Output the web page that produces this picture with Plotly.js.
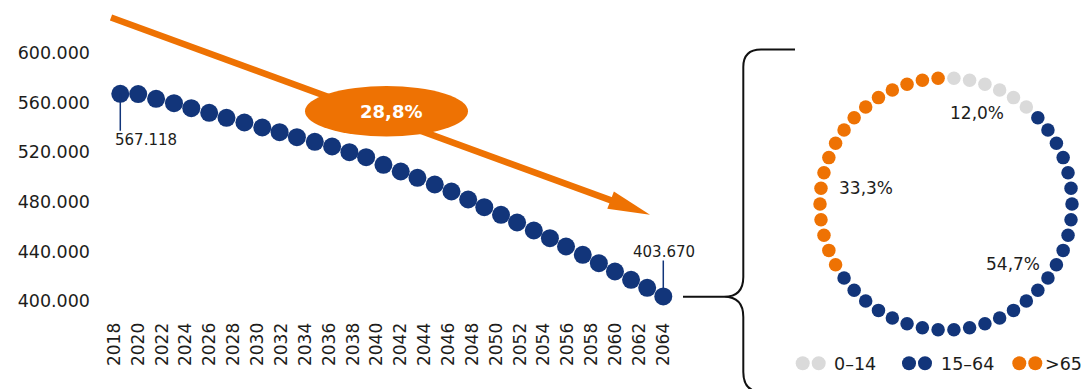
<!DOCTYPE html>
<html>
<head>
<meta charset="utf-8">
<script src="https://cdn.plot.ly/plotly-3.0.1.min.js"></script>
<style>html,body{margin:0;padding:0;background:#fff}#chart{width:1084px;height:389px}</style>
</head>
<body>
<div id="chart"></div>
<script>
// ---- data ----
// positions of the beads along the year axis, and the population they mark
const beadYears = [2018.5, 2020.0, 2021.5, 2023.0, 2024.45, 2025.95, 2027.4, 2028.9, 2030.4, 2031.85,
  2033.3, 2034.8, 2036.25, 2037.7, 2039.1, 2040.55, 2042.0, 2043.4, 2044.85, 2046.25,
  2047.65, 2049.0, 2050.4, 2051.75, 2053.15, 2054.5, 2055.85, 2057.25, 2058.6, 2059.95,
  2061.3, 2062.65, 2064.0];
const population = [567118, 566900, 563060, 559500, 555480, 551770, 547740, 543950, 539920, 536130,
  532100, 528390, 524600, 520000, 515970, 509840, 504430, 499350, 493950, 488300,
  481850, 475640, 469520, 463300, 456850, 450640, 443950, 437260, 430480, 423790,
  417100, 410650, 403670];
const yTicks = [400000, 440000, 480000, 520000, 560000, 600000];
const ageGroups = ['0–14', '15–64', '>65'];
const ageShares = [12.0, 54.7, 33.3];
const ringDotCount = 50;

// ---- style ----
const NAVY = '#12357a', ORANGE = '#ee7203', GREY = '#dadada', TXT = '#1d1d1b';
const groupColors = [GREY, NAVY, ORANGE];
const FONT = 'DejaVu Sans, sans-serif';
const W = 1084, H = 389;
const px = x => x / W, py = y => 1 - y / H;

function fmtThousands(v) { return String(Math.round(v)).replace(/\B(?=(\d{3})+(?!\d))/g, '.'); }
function fmtPct(v) { return v.toFixed(1).replace('.', ',') + '%'; }

// ring of dots built from shares
const counts = ageShares.map(s => Math.round(s / 100 * ringDotCount));
const ringTheta = [], ringColor = [];
let k = 0;
counts.forEach((c, g) => { for (let i = 0; i < c; i++) { ringTheta.push((k + 0.5) * 360 / ringDotCount); ringColor.push(groupColors[g]); k++; } });
const ringR = ringTheta.map(() => 1);

const traces = [
  { type: 'scatter', mode: 'markers', x: beadYears, y: population, xaxis: 'x', yaxis: 'y',
    marker: { size: 18, color: NAVY }, cliponaxis: false, hoverinfo: 'x+y' },
  { type: 'scatterpolar', mode: 'markers', r: ringR, theta: ringTheta, subplot: 'polar',
    marker: { size: 13.5, color: ringColor }, cliponaxis: false, hoverinfo: 'none' }
];

function pathPx(cmds) {
  return cmds.map(c => {
    if (typeof c === 'string') return c;
    return px(c[0]).toFixed(5) + ',' + py(c[1]).toFixed(5);
  }).join(' ');
}

const nLast = population.length - 1;
const shapes = [
  // stems
  { type: 'line', xref: 'x', yref: 'y', x0: beadYears[0], x1: beadYears[0], ysizemode: 'pixel', yanchor: population[0], y0: 0, y1: -37, line: { color: NAVY, width: 1.5 } },
  { type: 'line', xref: 'x', yref: 'y', x0: beadYears[nLast], x1: beadYears[nLast], ysizemode: 'pixel', yanchor: population[nLast], y0: 0, y1: 36, line: { color: NAVY, width: 1.5 }, layer: 'below' },
  // arrow
  { type: 'line', xref: 'paper', yref: 'paper', x0: px(111), y0: py(17.5), x1: px(612.5), y1: py(200.9), line: { color: ORANGE, width: 6.5 } },
  { type: 'path', xref: 'paper', yref: 'paper', path: 'M ' + pathPx([[650, 214.7], 'L', [607.3, 208.8], 'L', [613.9, 191.5]]) + ' Z', fillcolor: ORANGE, line: { width: 0 } },
  { type: 'circle', xref: 'paper', yref: 'paper', x0: px(305), x1: px(468), y0: py(86), y1: py(136.5), fillcolor: ORANGE, line: { width: 0 } },
  // bracket
  { type: 'path', xref: 'paper', yref: 'paper', line: { color: '#111', width: 2 },
    path: 'M ' + pathPx([[795, 49.5], 'L', [761, 49.5], 'Q', [743.3, 49.5], [743.3, 67], 'L', [743.3, 277], 'Q', [743.3, 296.8], [724, 296.8], 'L', [683, 296.8],
      'M', [724, 296.8], 'Q', [743.3, 296.8], [743.3, 317], 'L', [743.3, 372], 'Q', [743.3, 392], [762, 392]]) }
];

// legend dots
const legendX = [[802.7, 818.7], [909, 925], [1019.3, 1035.3]];
legendX.forEach((pair, g) => pair.forEach(cx => shapes.push({ type: 'circle', xref: 'paper', yref: 'paper',
  x0: px(cx - 7), x1: px(cx + 7), y0: py(363.3 - 7), y1: py(363.3 + 7), fillcolor: groupColors[g], line: { width: 0 } })));

const legendTextX = [832, 939, 1043];
const pctPos = [[976.7, 113.3], [1012.7, 264.3], [865.7, 188.3]];

const annotations = [
  { x: beadYears[0], y: population[0], xref: 'x', yref: 'y', xanchor: 'center', yanchor: 'middle', text: fmtThousands(population[0]), showarrow: false, xshift: 25.5, yshift: -46, font: { family: FONT, size: 15, color: TXT } },
  { x: beadYears[nLast], y: population[nLast], xref: 'x', yref: 'y', xanchor: 'center', yanchor: 'middle', text: fmtThousands(population[nLast]), showarrow: false, xshift: 1, yshift: 44, font: { family: FONT, size: 15, color: TXT } },
  { x: px(391), y: py(112), xref: 'paper', yref: 'paper', xanchor: 'center', yanchor: 'middle', text: '<b>' + fmtPct((1 - population[nLast] / population[0]) * 100) + '</b>', showarrow: false, font: { family: FONT, size: 18, color: '#ffffff' } }
];
ageGroups.forEach((g, i) => {
  annotations.push({ x: px(pctPos[i][0]), y: py(pctPos[i][1]), xref: 'paper', yref: 'paper', xanchor: 'center', yanchor: 'middle', text: fmtPct(ageShares[i]), showarrow: false, font: { family: FONT, size: 17, color: TXT } });
  annotations.push({ x: px(legendTextX[i]), y: py(363.5), xref: 'paper', yref: 'paper', xanchor: 'left', yanchor: 'middle', text: g, showarrow: false, font: { family: FONT, size: 17.5, color: TXT } });
});

const layout = {
  width: W, height: H,
  margin: { l: 0, r: 0, t: 0, b: 0, pad: 0 },
  paper_bgcolor: '#ffffff', plot_bgcolor: 'rgba(0,0,0,0)',
  showlegend: false, separators: ',.',
  font: { family: FONT, color: TXT },
  xaxis: { domain: [px(100), px(680)], range: [2016.80, 2065.40], tick0: 2018, dtick: 2, tickangle: -90,
    showgrid: false, zeroline: false, showline: false, ticks: '', ticklabelstandoff: 5,
    tickfont: { family: FONT, size: 17, color: TXT }, automargin: false },
  yaxis: { domain: [py(313.4), py(34.4)], range: [390000, 615000], tickvals: yTicks, tickformat: ',d',
    showgrid: false, zeroline: false, showline: false, ticks: '', ticklabelstandoff: 9,
    tickfont: { family: FONT, size: 17.5, color: TXT }, automargin: false },
  polar: { domain: { x: [px(820), px(1072)], y: [py(330), py(78)] }, bgcolor: 'rgba(0,0,0,0)',
    radialaxis: { visible: false, range: [0, 1] },
    angularaxis: { visible: false, rotation: 90, direction: 'clockwise' } },
  shapes: shapes,
  annotations: annotations
};

Plotly.newPlot('chart', traces, layout, { staticPlot: true, displayModeBar: false });
</script>
</body>
</html>
